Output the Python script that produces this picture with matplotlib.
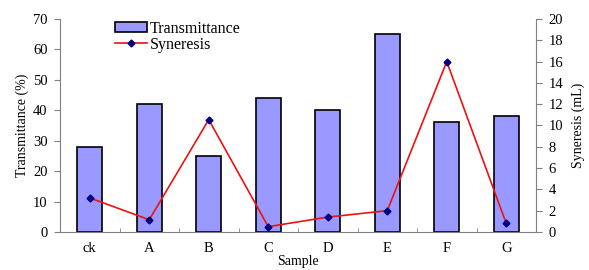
import numpy as np
import matplotlib.pyplot as plt
from matplotlib.patches import Patch
from matplotlib.lines import Line2D

samples = ['ck', 'A', 'B', 'C', 'D', 'E', 'F', 'G']
transmittance = [28, 42, 25, 44, 40, 65, 36, 38]
syneresis = [3.2, 1.15, 10.55, 0.5, 1.4, 2.0, 16.0, 0.8]

plt.rcParams['font.family'] = ['Liberation Serif', 'DejaVu Serif']
plt.rcParams['font.size'] = 10.5

fig = plt.figure(figsize=(5.89, 2.70), dpi=100)
ax = fig.add_axes([60 / 589, 1 - 232 / 270, 476 / 589, 213 / 270])

x = np.arange(len(samples))
ax.bar(x, transmittance, width=0.42, color='#9999ff', edgecolor='black', linewidth=1.2, zorder=2)
ax.set_xlim(-0.5, len(samples) - 0.5)
ax.set_ylim(0, 70)
ax.set_yticks(range(0, 71, 10))
ax.set_xticks(x)
ax.set_xticklabels(samples)
ax.set_xticks(np.arange(0.5, len(samples) - 0.5, 1), minor=True)
ax.tick_params(axis='x', which='major', length=0, pad=7)
ax.tick_params(axis='x', which='minor', direction='in', length=3, color='#808080')
ax.tick_params(axis='y', direction='out', length=4, color='#808080', pad=5)
ax.set_ylabel('Transmittance (%)', fontsize=10, labelpad=3)
ax.set_xlabel('Sample', fontsize=10, labelpad=0)
for s in ['top', 'right']:
    ax.spines[s].set_visible(False)
ax.spines['left'].set_color('#808080')
ax.spines['bottom'].set_color('#808080')

ax2 = ax.twinx()
ax2.plot(x, syneresis, color='#ee1111', linewidth=1.2, marker='D', markersize=3.5,
         markerfacecolor='#000080', markeredgecolor='#000080', zorder=3)
ax2.set_ylim(0, 20)
ax2.set_yticks(range(0, 21, 2))
ax2.tick_params(axis='y', direction='out', length=4, color='#808080', pad=5)
ax2.set_ylabel('Syneresis (mL)', fontsize=10, labelpad=6)
for s in ['top', 'left', 'bottom']:
    ax2.spines[s].set_visible(False)
ax2.spines['right'].set_color('#808080')

handles = [Patch(facecolor='#9999ff', edgecolor='black', linewidth=1.2),
           Line2D([], [], color='#ee1111', linewidth=1.2, marker='D', markersize=3.5,
                  markerfacecolor='#000080', markeredgecolor='#000080')]
ax2.legend(handles, ['Transmittance', 'Syneresis'], loc='upper left',
           bbox_to_anchor=(0.085, 1.06), frameon=False, fontsize=11.5,
           handlelength=2.0, handleheight=0.6, handletextpad=0.2, labelspacing=0.0)

fig.savefig('out.png', dpi=100)
